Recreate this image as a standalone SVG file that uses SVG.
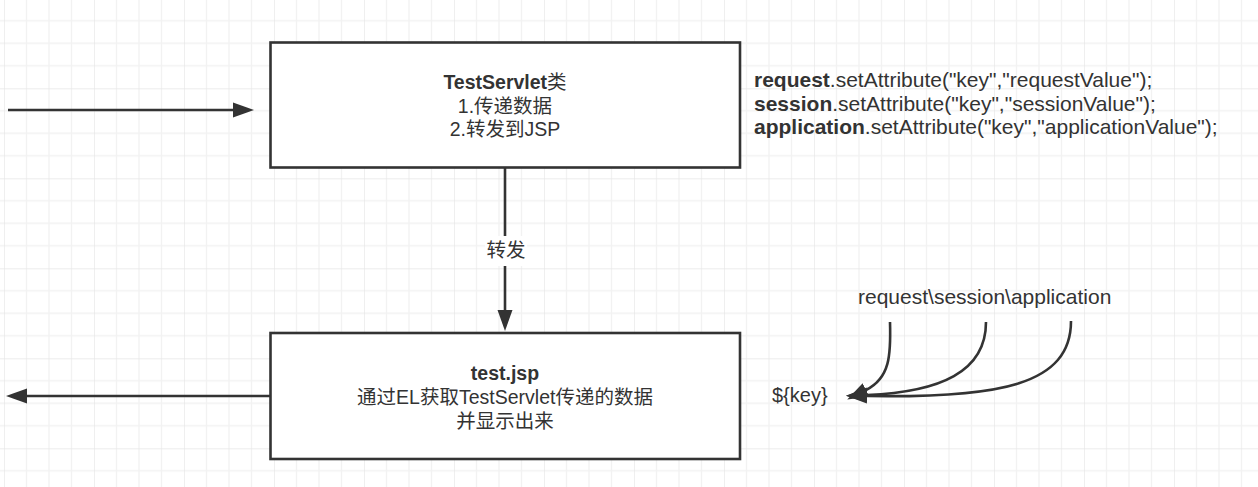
<svg xmlns="http://www.w3.org/2000/svg" width="1258" height="487" viewBox="0 0 1258 487">
<style>
text{font-family:"Liberation Sans","Noto Sans CJK SC",sans-serif;font-size:19.5px;fill:#333}
.b{font-weight:bold}
.c{text-anchor:middle}
.r{font-size:21px}
.box{fill:#fff;stroke:#333;stroke-width:2.6}
.ln{fill:none;stroke:#333;stroke-width:2.6}
</style>
<defs>
<pattern id="grid" patternUnits="userSpaceOnUse" x="4" y="-1.7" width="90" height="90">
<path d="M22.5 0V90M45 0V90M67.5 0V90M0 22.5H90M0 45H90M0 67.5H90" stroke="#f2f2f2" stroke-width="1.3" fill="none"/>
<path d="M0 0V90M0 0H90" stroke="#e6e6e6" stroke-width="1.3" fill="none"/>
</pattern>
<marker id="ah" markerUnits="userSpaceOnUse" markerWidth="22" markerHeight="16" refX="0" refY="7.5" orient="auto" viewBox="0 0 22 15">
<path d="M0 0L21 7.5L0 15z" fill="#333"/>
</marker>
</defs>
<rect width="1258" height="487" fill="#fff"/>
<rect width="1258" height="487" fill="url(#grid)"/>
<g id="connectors">
<path class="ln" d="M8 110H233" marker-end="url(#ah)"/>
<path class="ln" d="M505 168V310" marker-end="url(#ah)"/>
<path class="ln" d="M270 396H27" marker-end="url(#ah)"/>
<rect x="485" y="236" width="42" height="30" fill="#fff"/>
<text class="c" x="506" y="257">转发</text>
<path class="ln" d="M890 322C891 355 890 378 866 390" marker-end="url(#ah)"/>
<path class="ln" d="M986 322C986 372 940 392 867 395" marker-end="url(#ah)"/>
<path class="ln" d="M1071 321C1071 385 1000 398 867 396" marker-end="url(#ah)"/>
</g>
<g id="servlet">
<rect class="box" x="270.5" y="42.5" width="469.5" height="125"/>
<text class="c" x="505" y="89"><tspan class="b">TestServlet</tspan>类</text>
<text class="c" x="505" y="113">1.传递数据</text>
<text class="c" x="505" y="136">2.转发到JSP</text>
</g>
<g id="jsp">
<rect class="box" x="270.5" y="333" width="469.5" height="126"/>
<text class="c b" x="505" y="380">test.jsp</text>
<text class="c" x="505" y="404">通过EL获取TestServlet传递的数据</text>
<text class="c" x="505" y="428">并显示出来</text>
</g>
<g id="attrs">
<text class="r" x="754" y="87"><tspan class="b">request</tspan>.setAttribute("key","requestValue");</text>
<text class="r" x="754" y="111"><tspan class="b">session</tspan>.setAttribute("key","sessionValue");</text>
<text class="r" x="754" y="134"><tspan class="b">application</tspan>.setAttribute("key","applicationValue");</text>
</g>
<g id="scopes">
<text class="r" x="858" y="304">request\session\application</text>
</g>
<g id="el">
<text x="772" y="402" style="font-size:20px">${key}</text>
</g>
</svg>
